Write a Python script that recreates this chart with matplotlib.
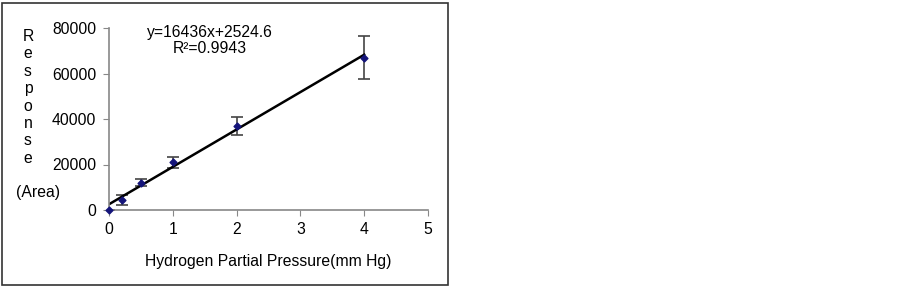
import numpy as np
import matplotlib.pyplot as plt
from matplotlib.patches import Rectangle

plt.rcParams['font.family'] = ['Liberation Sans', 'DejaVu Sans']

pressure = [0, 0.2, 0.5, 1, 2, 4]                   # mm Hg
response = [0, 4500, 12000, 21000, 37000, 67000]    # area
err = [0, 2300, 1600, 2500, 4000, 9300]
slope, intercept = 16436, 2524.6

fs = 11.3
fig = plt.figure(figsize=(9.03, 2.88), dpi=100)
fig.patches.append(Rectangle((2/903, 3/288), 446/903, 282/288, transform=fig.transFigure,
                             fill=False, ec='#333333', lw=1.2))

ax = fig.add_axes([109/903, 1 - 210/288, 319/903, 182/288])
xf = np.array([0, 4])
ax.plot(xf, slope*xf + intercept, c='black', lw=1.8, zorder=2)
ax.errorbar(pressure, response, yerr=err, fmt='none', ecolor='#444444',
            elinewidth=1.2, capsize=4, capthick=1.2, zorder=1)
ax.scatter(pressure, response, marker='D', s=12, c='#14147a', zorder=3, clip_on=False)

ax.set_xlim(0, 5)
ax.set_ylim(0, 80000)
ax.set_xticks(range(6))
ax.set_yticks(range(0, 80001, 20000))
for s in ['top', 'right']:
    ax.spines[s].set_visible(False)
for s in ['left', 'bottom']:
    ax.spines[s].set_color('#888888')
    ax.spines[s].set_linewidth(1.2)
ax.tick_params(direction='out', length=4, color='#888888', labelsize=fs, pad=5)

ax.set_xlabel('Hydrogen Partial Pressure(mm Hg)', fontsize=fs, labelpad=12)
ax.text(0.317, 1.015, 'y=16436x+2524.6\nR²=0.9943', transform=ax.transAxes,
        ha='center', va='top', fontsize=fs, linespacing=1.05)

fig.text(28/903, 1 - 29/288, '\n'.join('Response'), ha='center', va='top',
         fontsize=fs, linespacing=1.2)
fig.text(38/903, 1 - 193/288, '(Area)', ha='center', va='center', fontsize=fs)

fig.savefig('out.png', dpi=100)
